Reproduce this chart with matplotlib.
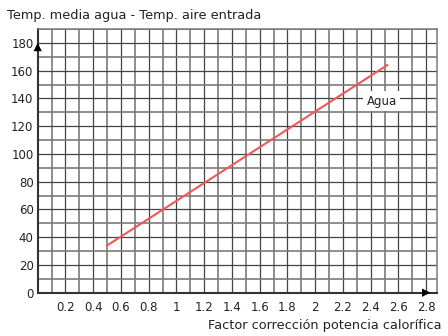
import matplotlib
matplotlib.use("Agg")
import matplotlib.pyplot as plt
import numpy as np

plt.rcParams['font.family'] = ['DejaVu Sans']

# data
line_x = [0.5, 2.52]
line_y = [34, 164]
series_label = "Agua"
x_ticks = [0.2, 0.4, 0.6, 0.8, 1.0, 1.2, 1.4, 1.6, 1.8, 2.0, 2.2, 2.4, 2.6, 2.8]
x_tick_labels = ["0.2", "0.4", "0.6", "0.8", "1", "1.2", "1.4", "1.6", "1.8", "2", "2.2", "2.4", "2.6", "2.8"]
y_ticks = [0, 20, 40, 60, 80, 100, 120, 140, 160, 180]
y_title = "Temp. media agua - Temp. aire entrada"
x_title = "Factor corrección potencia calorífica"

fig = plt.figure(figsize=(4.48, 3.36), dpi=100)
ax = fig.add_axes([37.7/448, 1-292.7/336, (437.3-37.7)/448, (292.7-29.0)/336])
ax.set_xlim(0, 2.88)
ax.set_ylim(0, 190)

# grid
for i in range(1, 29):
    xv = i * 0.1
    ax.axvline(xv, color='#454545' if i % 2 == 0 else '#7a7a7a', lw=0.9 if i % 2 == 0 else 1.2, zorder=1)
for j in range(1, 20):
    yv = j * 10
    ax.axhline(yv, color='#454545' if j % 2 == 0 else '#7a7a7a', lw=0.9 if j % 2 == 0 else 1.2, zorder=1)

for s in ['top', 'right']:
    ax.spines[s].set_color('#7a7a7a')
    ax.spines[s].set_linewidth(1.1)
for s in ['left', 'bottom']:
    ax.spines[s].set_color('#333333')
    ax.spines[s].set_linewidth(1.5)

ax.set_xticks(x_ticks)
ax.set_xticklabels(x_tick_labels)
ax.set_yticks(y_ticks)
ax.tick_params(axis='both', length=0, labelsize=8.5, colors='#222222')
ax.tick_params(axis='x', pad=6)
ax.tick_params(axis='y', pad=3)

ax.plot(line_x, line_y, color='#f05858', lw=1.5, zorder=3)
ax.text(2.48, 138, series_label, fontsize=8.5, ha='center', va='center', color='#222222',
        bbox=dict(facecolor='white', edgecolor='none', pad=2.5), zorder=4)

# arrows
ax.annotate('', xy=(0, 182), xytext=(0, 170), xycoords='data',
            arrowprops=dict(arrowstyle='-|>', color='black', lw=0, mutation_scale=15), annotation_clip=False)
ax.annotate('', xy=(2.85, 0), xytext=(2.70, 0), xycoords='data',
            arrowprops=dict(arrowstyle='-|>', color='black', lw=0, mutation_scale=15), annotation_clip=False)

fig.text(7/448, 1-15/336, y_title, fontsize=9.3, ha='left', va='center', color='#222222')
fig.text(441/448, 1-326/336, x_title, fontsize=9.3, ha='right', va='center', color='#222222')

fig.savefig('out.png', dpi=100)
